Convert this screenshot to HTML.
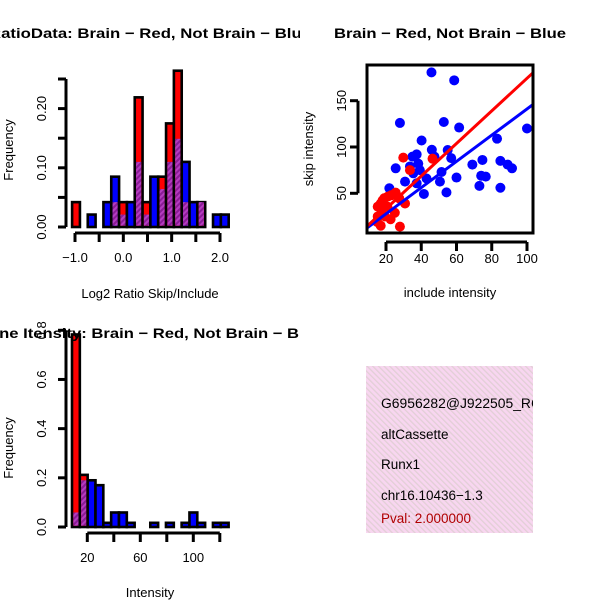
<!DOCTYPE html>
<html><head><meta charset="utf-8"><style>
html,body{margin:0;padding:0;background:#fff;}
svg{display:block;font-family:"Liberation Sans",Arial,sans-serif;}
</style></head><body>
<svg id="s" width="600" height="600" viewBox="0 0 600 600" xmlns="http://www.w3.org/2000/svg">
<defs>
<pattern id="hatch" width="4" height="4" patternUnits="userSpaceOnUse" patternTransform="rotate(45)">
<rect width="4" height="4" fill="#8a1c96"/><rect width="2" height="4" fill="#b43cc0"/></pattern>
<pattern id="pink" width="4" height="4" patternUnits="userSpaceOnUse" patternTransform="rotate(-45)">
<rect width="4" height="4" fill="#f8d6f0"/><rect width="1.3" height="4" fill="#e2cfd6"/></pattern>
<clipPath id="c1"><rect x="0" y="0" width="300" height="300"/></clipPath>
<clipPath id="c3"><rect x="0" y="300" width="300" height="300"/></clipPath>
<clipPath id="cbox"><rect x="367" y="65" width="166" height="168"/></clipPath>
<clipPath id="cinfo"><rect x="366" y="366" width="167" height="167"/></clipPath>
</defs>
<g id="p1"></g>
<g id="p2"></g>
<g id="p3"></g>
<g id="p4">
<rect x="366" y="366" width="167" height="167" fill="url(#pink)"/>
<g clip-path="url(#cinfo)" font-size="13.5">
<text x="381" y="408" textLength="160" lengthAdjust="spacingAndGlyphs">G6956282@J922505_RC</text>
<text x="381" y="439">altCassette</text>
<text x="381" y="469">Runx1</text>
<text x="381" y="500">chr16.10436−1.3</text>
<text x="381" y="523" fill="#b00000">Pval: 2.000000</text>
</g></g>
</svg>
<script>
// Ratio histogram data
const h1Start = -1.06, h1Width = 0.162;
const h1Red  = [0.042,0,0,0,0,0.042,0.042,0,0.219,0.042,0,0.085,0.175,0.264,0.042,0,0.042,0,0,0];
const h1Blue = [0,0,0.021,0,0.042,0.085,0.021,0.042,0.11,0.021,0.085,0.064,0.11,0.149,0.11,0.042,0.042,0,0.021,0.021];
const h1YTicks = [0,0.05,0.10,0.15,0.20,0.25];
const h1YLabels = ["0.00","","0.10","","0.20",""];
const h1XTicks = [-1,-0.5,0,0.5,1,1.5,2];
const h1XLabels = ["−1.0","","0.0","","1.0","","2.0"];
// Intensity histogram data
const h2Start = 8.45, h2Width = 5.91;
const h2Red  = [0.783,0.212,0,0,0,0,0,0,0,0,0,0,0,0,0,0,0,0,0,0];
const h2Blue = [0.059,0.19,0.19,0.17,0.017,0.059,0.059,0.017,0,0,0.017,0,0.017,0,0.017,0.059,0.017,0,0.017,0.017];
const h2YTicks = [0,0.2,0.4,0.6,0.8];
const h2YLabels = ["0.0","0.2","0.4","0.6","0.8"];
const h2XTicks = [20,40,60,80,100,120];
const h2XLabels = ["20","","60","","100",""];
// Scatter data
const blueX = [45.8,58.7,27.9,52.8,61.5,100,40.2,83,46,37.4,35,47.5,57,74.7,84.9,69,89,91.5,25.5,33.6,38.3,39.2,35.5,30.8,37.4,43,50.6,51.5,60,74,76.6,73,84.9,54.3,41.5,21.9,23.2,55];
const blueY = [180.6,172,126,127,121,120,107,109,97,92,89.6,89.6,88,86,85,81,81,77,77,79,82,75,71.6,62.6,60.8,66,62.6,73,67,69,68,58,56,51,49.3,55.4,50.7,96.7];
const redX = [29.8,46.4,27.9,17,15,15.3,17,19,21,25.5,27.5,22.6,25,30.8,17.5,19.4,15.3,20.8,33.6,18,23];
const redY = [88.5,87.4,14,15,19,35.6,39,44.6,46.4,50.7,44.6,22,29,39,30,25,25,35.6,75,42,48];
const fitIntercept = [-1.8,-0.5];
const fitSlope = [1.76,1.416];
const fitColor = ["#ff0000","#0000ff"];
const sXTicks = [20,40,60,80,100];
const sYTicks = [50,100,150];

const NS="http://www.w3.org/2000/svg";
function mk(parent,tag,attrs){const e=document.createElementNS(NS,tag);for(const k in attrs)e.setAttribute(k,attrs[k]);parent.appendChild(e);return e;}
function txt(parent,x,y,s,size,extra){const e=mk(parent,'text',Object.assign({x:x,y:y,'font-size':size,'text-anchor':'middle'},extra||{}));e.textContent=s;return e;}

function hist(g, start, width, red, blue, sx, sy, yTicks, yLabels, xTicks, xLabels, axX, axY, yLabX, xLabY){
  const bars = mk(g,'g',{});
  
  
  for(let i=0;i<red.length;i++){
    const x0=sx(start+i*width), x1=sx(start+(i+1)*width);
    const r=red[i], b=blue[i];
    const hi=Math.max(r,b), lo=Math.min(r,b);
    if(hi<=0) continue;
    const rr=mk(bars,'rect',{x:x0,y:sy(hi),width:x1-x0,height:sy(0)-sy(hi),fill:r>=b?'#ff0000':'#0000ff',stroke:'#000','stroke-width':2.6});
    
    
    if(lo>0){
      const pr=mk(bars,'rect',{x:x0+1.3,y:sy(lo),width:x1-x0-2.6,height:sy(0)-sy(lo)-1.3,fill:'url(#hatch)'});
      
      
    }
  }
  const ya=mk(g,'g',{stroke:'#000','stroke-width':3,fill:'none'});
  
  
  mk(ya,'line',{x1:axX,x2:axX,y1:sy(yTicks[0]),y2:sy(yTicks[yTicks.length-1])});
  yTicks.forEach((t,i)=>{
    mk(ya,'line',{x1:axX-8,x2:axX,y1:sy(t),y2:sy(t)});
    if(yLabels[i]){const e=txt(g,yLabX,sy(t),yLabels[i],13,{transform:`rotate(-90 ${yLabX} ${sy(t)})`});
      
      }
  });
  const xa=mk(g,'g',{stroke:'#000','stroke-width':3,fill:'none'});
  
  
  mk(xa,'line',{x1:sx(xTicks[0]),x2:sx(xTicks[xTicks.length-1]),y1:axY,y2:axY});
  xTicks.forEach((t,i)=>{
    mk(xa,'line',{x1:sx(t),x2:sx(t),y1:axY,y2:axY+9});
    if(xLabels[i]){const e=txt(g,sx(t),xLabY,xLabels[i],13);
      
      }
  });
}

// Panel 1
const g1=document.getElementById('p1');
const sx1=v=>75+(v+1)*48.33, sy1=v=>227-v*592;
hist(g1,h1Start,h1Width,h1Red,h1Blue,sx1,sy1,h1YTicks,h1YLabels,h1XTicks,h1XLabels,66,233,46,262);
let t=txt(g1,150,38,"RatioData: Brain − Red, Not Brain − Blue",14,{'font-weight':'bold','clip-path':'url(#c1)',textLength:322,lengthAdjust:'spacingAndGlyphs'});
 
t=txt(g1,150,298,"Log2 Ratio Skip/Include",13);  
t=txt(g1,13,150,"Frequency",13,{transform:'rotate(-90 13 150)'});  

// Panel 3
const g3=document.getElementById('p3');
const sx3=v=>87.3+(v-20)*1.325, sy3=v=>527-v*245.9;
hist(g3,h2Start,h2Width,h2Red,h2Blue,sx3,sy3,h2YTicks,h2YLabels,h2XTicks,h2XLabels,66,533,46,562);
t=txt(g3,150,338,"Gene Itensity: Brain − Red, Not Brain − Blue",14,{'font-weight':'bold','clip-path':'url(#c3)',textLength:346,lengthAdjust:'spacingAndGlyphs'});
 
t=txt(g3,150,597,"Intensity",13);  
t=txt(g3,13,448,"Frequency",13,{transform:'rotate(-90 13 448)'});  

// Panel 2 scatter
const g2=document.getElementById('p2');
const sx2=v=>386+(v-20)*1.7625, sy2=v=>193.3-(v-50)*0.926;
const inner=mk(g2,'g',{'clip-path':'url(#cbox)'});


blueX.forEach((x,i)=>{const c=mk(inner,'circle',{cx:sx2(x),cy:sy2(blueY[i]),r:5,fill:'#0000ff'});
   });
redX.forEach((x,i)=>{const c=mk(inner,'circle',{cx:sx2(x),cy:sy2(redY[i]),r:5,fill:'#ff0000'});
   });
[1,0].forEach(k=>{const l=mk(inner,'line',{x1:sx2(0),y1:sy2(fitIntercept[k]),x2:sx2(110),y2:sy2(fitIntercept[k]+fitSlope[k]*110),stroke:fitColor[k],'stroke-width':3});
   });
const box=mk(g2,'rect',{x:367,y:65,width:166,height:168,fill:'none',stroke:'#000','stroke-width':3});
 
const xa2=mk(g2,'g',{stroke:'#000','stroke-width':3});
 
mk(xa2,'line',{x1:sx2(20),x2:sx2(100),y1:242,y2:242});
sXTicks.forEach(v=>{mk(xa2,'line',{x1:sx2(v),x2:sx2(v),y1:242,y2:251});
  const e=txt(g2,sx2(v),263,String(v),13);  });
const ya2=mk(g2,'g',{stroke:'#000','stroke-width':3});
 
mk(ya2,'line',{x1:358,x2:358,y1:sy2(50),y2:sy2(150)});
sYTicks.forEach(v=>{mk(ya2,'line',{x1:350,x2:358,y1:sy2(v),y2:sy2(v)});
  const e=txt(g2,346,sy2(v),String(v),13,{transform:`rotate(-90 346 ${sy2(v)})`});  });
t=txt(g2,450,38,"Brain − Red, Not Brain − Blue",14,{'font-weight':'bold',textLength:232,lengthAdjust:'spacingAndGlyphs'});  
t=txt(g2,450,297,"include intensity",13);  
t=txt(g2,313,149,"skip intensity",13,{transform:'rotate(-90 313 149)'});  
</script>
</body></html>
